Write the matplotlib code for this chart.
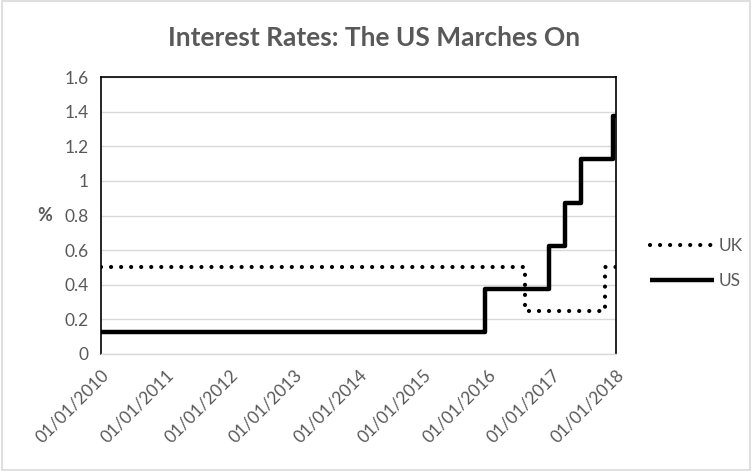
import matplotlib
matplotlib.use("Agg")
import matplotlib.pyplot as plt
import datetime as dt
from matplotlib.patches import Rectangle

plt.rcParams['font.family'] = ['Lato', 'DejaVu Sans']

# Data: rate change dates and values (step series)
uk_dates = ["2010-01-01", "2016-08-04", "2017-11-02", "2018-01-01"]
uk_values = [0.5, 0.25, 0.5, 0.5]
us_dates = ["2010-01-01", "2015-12-17", "2016-12-15", "2017-03-16", "2017-06-15", "2017-12-14", "2018-01-01"]
us_values = [0.125, 0.375, 0.625, 0.875, 1.125, 1.375, 1.375]
tick_years = list(range(2010, 2019))

def to_dt(s):
    return dt.datetime.strptime(s, "%Y-%m-%d")

fig = plt.figure(figsize=(7.52, 4.71), dpi=100)
ax = fig.add_axes([101/752, 117/471, 515/752, 277/471])

grey = "#595959"
ax.plot([to_dt(d) for d in uk_dates], uk_values, drawstyle="steps-post",
        color="black", lw=3, linestyle=(0, (0.01, 2.4)), dash_capstyle="round", label="UK")
ax.plot([to_dt(d) for d in us_dates], us_values, drawstyle="steps-post",
        color="black", lw=3.2, label="US", solid_capstyle="butt")

ax.set_xlim(dt.datetime(2010, 1, 1), dt.datetime(2018, 1, 1))
ax.set_ylim(0, 1.6)
ax.set_yticks([0, 0.2, 0.4, 0.6, 0.8, 1.0, 1.2, 1.4, 1.6])
ax.set_yticklabels(["0", "0.2", "0.4", "0.6", "0.8", "1", "1.2", "1.4", "1.6"])
ticks = [dt.datetime(y, 1, 1) for y in tick_years]
ax.set_xticks(ticks)
ax.set_xticklabels([t.strftime("%d/%m/%Y") for t in ticks], rotation=45, ha="right",
                   rotation_mode="anchor")
ax.tick_params(axis="both", length=0, labelsize=12.5, labelcolor=grey)
ax.tick_params(axis="x", pad=9)
ax.tick_params(axis="y", pad=9)
ax.yaxis.grid(True, color="#D9D9D9", lw=1)
ax.set_axisbelow(True)

for s in ["left", "top", "right"]:
    ax.spines[s].set_linestyle((0, (1, 1)))
    ax.spines[s].set_linewidth(1.2)
    ax.spines[s].set_color("black")
ax.spines["bottom"].set_color("#D9D9D9")
ax.spines["bottom"].set_linewidth(1)

ax.set_ylabel("%", rotation=0, fontsize=13, color=grey, fontweight="bold")
ax.yaxis.set_label_coords(-0.11, 0.47)

fig.text(374/752, 1 - 38/471, "Interest Rates: The US Marches On", ha="center", va="center",
         fontsize=19, fontweight="bold", color=grey)

leg = ax.legend(loc="center left", bbox_to_anchor=(1.035, 0.327), frameon=False,
                fontsize=12.5, labelcolor=grey, handlelength=3.7, handletextpad=0.3,
                labelspacing=1.07)

fig.patches.append(Rectangle((0.002, 0.002), 0.996, 0.996, transform=fig.transFigure,
                             fill=False, edgecolor="#D9D9D9", lw=1.2))

fig.savefig("out.png", dpi=100)
